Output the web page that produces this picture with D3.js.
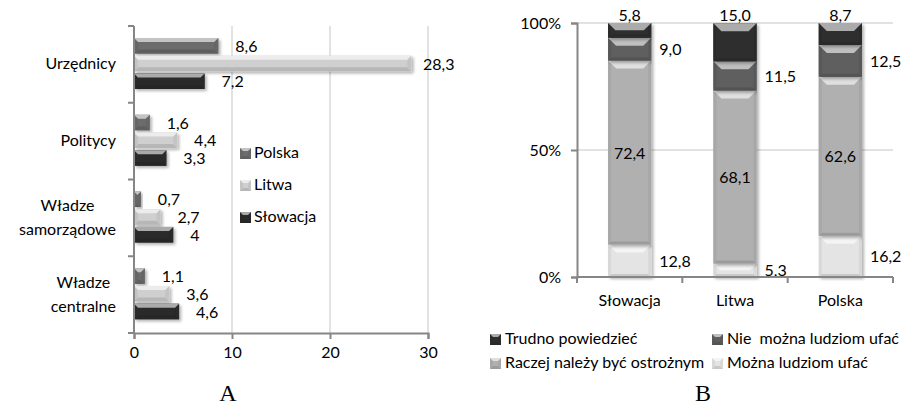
<!DOCTYPE html>
<html><head><meta charset="utf-8">
<script src="https://cdn.jsdelivr.net/npm/d3@7"></script>
<style>
body{margin:0;background:#fff}
svg{display:block}
text{font-family:Lato,"Open Sans",sans-serif;fill:#000}
</style>
</head><body>
<svg id="c" width="907" height="407"></svg>
<script>
// ---------- DATA (chart A) ----------
const categoriesA = ["Urzędnicy", "Politycy", "Władze samorządowe", "Władze centralne"];
const categoryLinesA = [["Urzędnicy"], ["Politycy"], ["Władze", "samorządowe"], ["Władze", "centralne"]];
const seriesA = ["Polska", "Litwa", "Słowacja"];
const polska = [8.6, 1.6, 0.7, 1.1];
const litwa = [28.3, 4.4, 2.7, 3.6];
const slowacja = [7.2, 3.3, 4, 4.6];
const ticksA = [0, 10, 20, 30];

// ---------- DATA (chart B) ----------
const countriesB = ["Słowacja", "Litwa", "Polska"];
const seriesB = ["Można ludziom ufać", "Raczej należy być ostrożnym", "Nie  można ludziom ufać", "Trudno powiedzieć"];
const moznaUfac = [12.8, 5.3, 16.2];
const raczejOstrozny = [72.4, 68.1, 62.6];
const nieMozna = [9.0, 11.5, 12.5];
const trudno = [5.8, 15.0, 8.7];
const ticksB = [0, 50, 100];
const legendOrderB = ["Trudno powiedzieć", "Nie  można ludziom ufać", "Raczej należy być ostrożnym", "Można ludziom ufać"];

// ---------- STYLE ----------
const colorsA = ["#6c6c6c", "#cfcfcf", "#2b2b2b"];
const colorsB = ["#e4e4e4", "#b0b0b0", "#5e5e5e", "#2e2e2e"];
const axisColor = "#868686", gridColor = "#d9d9d9";
const fs = 16;

const svg = d3.select("#c");
const defs = svg.append("defs");
const f = defs.append("filter").attr("id", "sh").attr("x", "-20%").attr("y", "-20%").attr("width", "150%").attr("height", "160%");
f.append("feGaussianBlur").attr("in", "SourceAlpha").attr("stdDeviation", 1.6);
f.append("feOffset").attr("dx", 2).attr("dy", 2).attr("result", "ob");
f.append("feComponentTransfer").append("feFuncA").attr("type", "linear").attr("slope", 0.3);
const fm = f.append("feMerge"); fm.append("feMergeNode"); fm.append("feMergeNode").attr("in", "SourceGraphic");

function bevel(g, x, y, w, h, color, b, sb) {
  const c = d3.color(color);
  const light = d3.interpolateRgb(color, "#ffffff")(0.6);
  const dark = c.darker(0.35).formatHex();
  const side = c.darker(0.15).formatHex();
  const s = sb == null ? b : sb;
  const grp = g.append("g");
  grp.append("rect").attr("x", x).attr("y", y).attr("width", w).attr("height", h).attr("fill", color);
  const pts = a => a.map(p => p.join(",")).join(" ");
  grp.append("polygon").attr("points", pts([[x, y + h], [x + w, y + h], [x + w - s, y + h - s], [x + s, y + h - s]])).attr("fill", dark);
  grp.append("polygon").attr("points", pts([[x, y], [x + s, y + s], [x + s, y + h - s], [x, y + h]])).attr("fill", side);
  grp.append("polygon").attr("points", pts([[x + w, y], [x + w - s, y + s], [x + w - s, y + h - s], [x + w, y + h]])).attr("fill", side);
  grp.append("polygon").attr("points", pts([[x, y], [x + w, y], [x + w - b, y + b], [x + b, y + b]])).attr("fill", light);
  return grp;
}

// ================= CHART A =================
const xA = d3.scaleLinear().domain([0, 30]).range([134, 428]);
const yA = d3.scaleBand().domain(categoriesA).range([26, 333]);
const ySub = d3.scaleBand().domain(seriesA).range([12, 63]).paddingInner(0.12);
const valuesA = [polska, litwa, slowacja];

const gA = svg.append("g");
gA.selectAll("line.grid").data(ticksA.slice(1)).join("line")
  .attr("x1", d => xA(d)).attr("x2", d => xA(d)).attr("y1", 26).attr("y2", 333)
  .attr("stroke", gridColor).attr("stroke-width", 1.5);

categoriesA.forEach((cat, ci) => {
  seriesA.forEach((s, si) => {
    const v = valuesA[si][ci];
    const y0 = yA(cat) + ySub(s), h = ySub.bandwidth();
    const w = xA(v) - xA(0);
    bevel(gA, xA(0), y0, w, h, colorsA[si], Math.min(4, h / 2, w / 2)).attr("filter", "url(#sh)");
    gA.append("text").attr("x", Math.min(xA(v) + 17, 423)).attr("y", y0 + h / 2 + 2)
      .attr("dominant-baseline", "middle").attr("font-size", fs)
      .text(String(v).replace(".", ","));
  });
});

const axXA = d3.axisBottom(xA).tickValues(ticksA).tickSize(6).tickPadding(8).tickFormat(d3.format("d"));
const gxA = gA.append("g").attr("transform", "translate(0,333)").call(axXA);
gxA.select(".domain").attr("stroke", axisColor).attr("stroke-width", 2);
gxA.selectAll(".tick line").attr("stroke", axisColor).attr("stroke-width", 2);
gxA.selectAll(".tick text").attr("font-size", fs).attr("font-family", "Lato").attr("fill", "#000");

gA.append("line").attr("x1", 134).attr("x2", 134).attr("y1", 26).attr("y2", 333).attr("stroke", axisColor).attr("stroke-width", 2);
const bounds = categoriesA.map(c => yA(c)).concat([333]);
gA.selectAll("line.ytick").data(bounds).join("line")
  .attr("x1", 128).attr("x2", 134).attr("y1", d => d).attr("y2", d => d)
  .attr("stroke", axisColor).attr("stroke-width", 2);

categoriesA.forEach((cat, ci) => {
  const lines = categoryLinesA[ci];
  const cy = yA(cat) + yA.bandwidth() / 2 + 1;
  const lh = 24;
  const ts = lines.map((ln, li) => gA.append("text")
    .attr("y", cy + (li - (lines.length - 1) / 2) * lh)
    .attr("dominant-baseline", "middle").attr("font-size", fs).attr("text-anchor", "middle").text(ln));
  const maxW = d3.max(ts, t => t.node().getComputedTextLength());
  ts.forEach(t => t.attr("x", 116 - maxW / 2));
});

seriesA.forEach((s, si) => {
  const ly = 153 + si * 32;
  bevel(gA, 240, ly - 5, 11, 11, colorsA[si], 3);
  gA.append("text").attr("x", 254).attr("y", ly + 1).attr("dominant-baseline", "middle").attr("font-size", fs).text(s);
});

svg.append("text").attr("x", 228).attr("y", 401).attr("text-anchor", "middle")
  .style("font-family", "'Liberation Serif',serif").attr("font-size", 24).text("A");

// ================= CHART B =================
const xB = d3.scaleBand().domain(countriesB).range([577, 893]);
const yB = d3.scaleLinear().domain([0, 100]).range([277, 23]);
const rowsB = countriesB.map((c, i) => ({
  country: c,
  [seriesB[0]]: moznaUfac[i], [seriesB[1]]: raczejOstrozny[i], [seriesB[2]]: nieMozna[i], [seriesB[3]]: trudno[i]
}));
const stackB = d3.stack().keys(seriesB)(rowsB);
const gB = svg.append("g");

gB.selectAll("line.grid").data(ticksB.slice(1)).join("line")
  .attr("x1", 577).attr("x2", 893).attr("y1", d => yB(d)).attr("y2", d => yB(d))
  .attr("stroke", gridColor).attr("stroke-width", 1.5);

const bw = xB.bandwidth() * 0.41;
const fmtB = v => v.toFixed(1).replace(".", ",");
const valsB = [moznaUfac, raczejOstrozny, nieMozna, trudno];
stackB.forEach((layer, li) => {
  layer.forEach((d, i) => {
    const cx = xB(countriesB[i]) + xB.bandwidth() / 2;
    const x0 = cx - bw / 2;
    const yt = yB(d[1]), yb = yB(d[0]);
    const h = yb - yt;
    bevel(gB, x0, yt, bw, h, colorsB[li], Math.min(8, h / 2, bw / 2), Math.min(3, h / 2)).attr("filter", "url(#sh)");
    const t = gB.append("text").attr("font-size", fs).attr("dominant-baseline", "middle").text(fmtB(valsB[li][i]));
    if (li === 3) {
      t.attr("x", cx).attr("y", yB(100) - 6).attr("text-anchor", "middle");
    } else if (li === 1) {
      t.attr("x", cx).attr("y", (yt + yb) / 2 + 2).attr("text-anchor", "middle");
    } else {
      t.attr("x", x0 + bw + 8).attr("y", (yt + yb) / 2 + 2).attr("text-anchor", "start");
    }
  });
});

const axYB = d3.axisLeft(yB).tickValues(ticksB).tickSize(6).tickPadding(10).tickFormat(d => d + "%");
const gyB = gB.append("g").attr("transform", "translate(577,0)").call(axYB);
gyB.select(".domain").attr("stroke", axisColor).attr("stroke-width", 2);
gyB.selectAll(".tick line").attr("stroke", axisColor).attr("stroke-width", 2);
gyB.selectAll(".tick text").attr("font-size", fs).attr("font-family", "Lato").attr("fill", "#000");

gB.append("line").attr("x1", 577).attr("x2", 893).attr("y1", 277).attr("y2", 277).attr("stroke", axisColor).attr("stroke-width", 2);
const bxs = countriesB.map(c => xB(c)).concat([893]);
gB.selectAll("line.xtick").data(bxs).join("line")
  .attr("x1", d => d).attr("x2", d => d).attr("y1", 277).attr("y2", 283)
  .attr("stroke", axisColor).attr("stroke-width", 2);
countriesB.forEach(c => {
  gB.append("text").attr("x", xB(c) + xB.bandwidth() / 2).attr("y", 302).attr("text-anchor", "middle")
    .attr("dominant-baseline", "middle").attr("font-size", fs).text(c);
});

legendOrderB.forEach((s, k) => {
  const col = k % 2, row = Math.floor(k / 2);
  const lx = col === 0 ? 490 : 712, ly = 339 + row * 24;
  const si = seriesB.indexOf(s);
  bevel(gB, lx, ly - 5, 11, 11, colorsB[si], 3);
  gB.append("text").attr("x", lx + 15).attr("y", ly + 1).attr("dominant-baseline", "middle")
    .attr("font-size", fs).style("white-space", "pre").text(s);
});

svg.append("text").attr("x", 703).attr("y", 401).attr("text-anchor", "middle")
  .style("font-family", "'Liberation Serif',serif").attr("font-size", 24).text("B");
</script>
</body></html>
